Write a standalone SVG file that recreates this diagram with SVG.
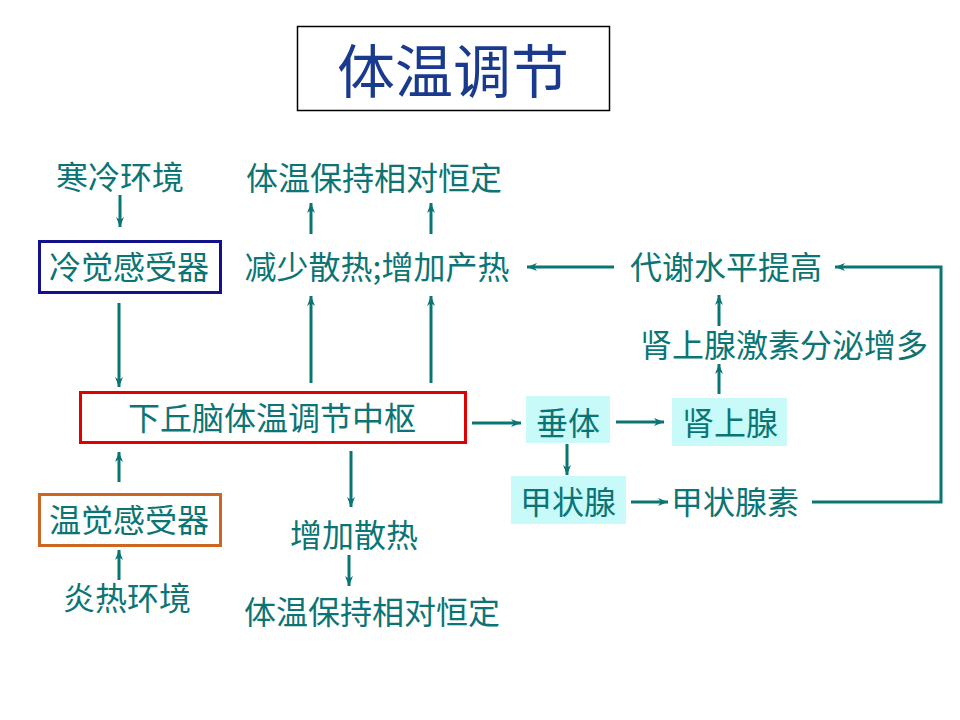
<svg xmlns="http://www.w3.org/2000/svg" width="960" height="720" viewBox="0 0 960 720">
<style>
text{font-family:"Noto Sans CJK SC","Noto Sans",sans-serif;fill:#0b7575;font-size:32px;text-anchor:middle;dominant-baseline:central}
.title{fill:#1a3a8f;font-size:58px}
.con line,.con polyline{stroke:#0b7575;stroke-width:3;fill:none;marker-end:url(#ah)}
.cyan{fill:#c8fafa;stroke:none}
</style>
<defs>
<marker id="ah" markerUnits="userSpaceOnUse" markerWidth="12" markerHeight="10" refX="10" refY="5" orient="auto">
<path d="M0,1 L10,5 L0,9 L3,5 z" fill="#0b7575"/>
</marker>
</defs>
<rect width="960" height="720" fill="#ffffff"/>
<g id="title">
<rect x="297.500" y="26.500" width="312" height="84" fill="none" stroke="#000" stroke-width="1.500"/>
<text class="title" x="453" y="68">体温调节</text>
</g>
<g id="cold-env"><text x="120" y="175">寒冷环境</text></g>
<g id="const-top"><text x="374" y="176">体温保持相对恒定</text></g>
<g id="cold-receptor">
<rect x="39.500" y="241.500" width="181" height="51" fill="none" stroke="#12128c" stroke-width="3"/>
<text x="129" y="265">冷觉感受器</text>
</g>
<g id="reduce"><text x="377" y="265">减少散热;增加产热</text></g>
<g id="metab"><text x="726" y="265">代谢水平提高</text></g>
<g id="adrenal-hormone"><text x="784" y="343">肾上腺激素分泌增多</text></g>
<g id="hypothalamus">
<rect x="80.500" y="392.500" width="385" height="50" fill="none" stroke="#e00000" stroke-width="3"/>
<text x="272" y="416">下丘脑体温调节中枢</text>
</g>
<g id="pituitary">
<rect class="cyan" x="526" y="396" width="84" height="47"/>
<text x="568" y="421">垂体</text>
</g>
<g id="adrenal">
<rect class="cyan" x="672" y="398" width="115" height="48"/>
<text x="730" y="421">肾上腺</text>
</g>
<g id="thyroid">
<rect class="cyan" x="511" y="476" width="115" height="48"/>
<text x="568" y="500">甲状腺</text>
</g>
<g id="thyroxine"><text x="735" y="500">甲状腺素</text></g>
<g id="warm-receptor">
<rect x="39.500" y="494.500" width="181" height="51" fill="none" stroke="#cc6622" stroke-width="3"/>
<text x="129" y="518">温觉感受器</text>
</g>
<g id="increase"><text x="354" y="533">增加散热</text></g>
<g id="const-bottom"><text x="372" y="610">体温保持相对恒定</text></g>
<g id="hot-env"><text x="127" y="596">炎热环境</text></g>
<g class="con" id="connectors">
<line x1="120" y1="195" x2="120" y2="227"/>
<line x1="311" y1="234" x2="311" y2="203"/>
<line x1="431" y1="234" x2="431" y2="203"/>
<line x1="119" y1="303" x2="119" y2="387"/>
<line x1="311" y1="383" x2="311" y2="296"/>
<line x1="431" y1="383" x2="431" y2="296"/>
<line x1="614" y1="267" x2="527" y2="267"/>
<line x1="719" y1="326" x2="719" y2="295"/>
<line x1="719" y1="394" x2="719" y2="364"/>
<line x1="472" y1="423" x2="521" y2="423"/>
<line x1="616" y1="422" x2="664" y2="422"/>
<line x1="567" y1="444" x2="567" y2="475"/>
<line x1="631" y1="502" x2="668" y2="502"/>
<polyline points="812,502 941,502 941,267 835,267"/>
<line x1="351" y1="451" x2="351" y2="507"/>
<line x1="349" y1="555" x2="349" y2="586"/>
<line x1="119" y1="482" x2="119" y2="452"/>
<line x1="119" y1="580" x2="119" y2="550"/>
</g>
</svg>
